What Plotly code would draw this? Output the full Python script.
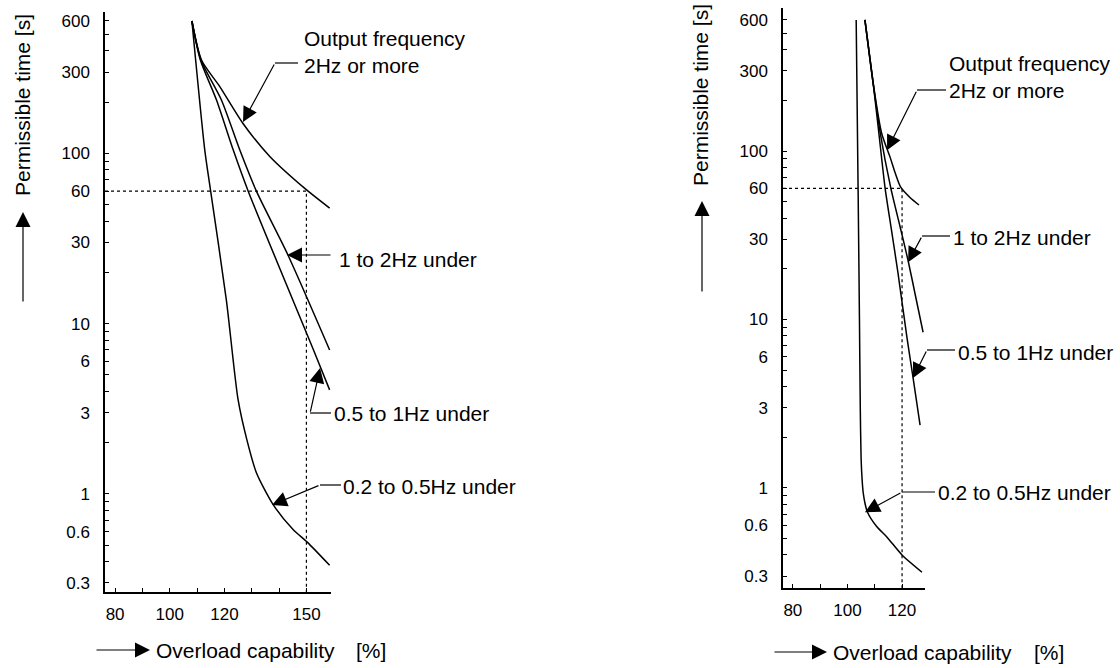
import math
import plotly.graph_objects as go

W, H = 1120, 668
FONT = "Liberation Sans, Arial, Helvetica, sans-serif"

# ---------------- data ----------------
# Left chart: overload capability [%] vs permissible time [s]
L_x_2hz = [108.1, 111.6, 118.3, 126.8, 136.6, 149.3, 158.5]
L_y_2hz = [600, 354, 247, 150, 96, 62.5, 47.7]
L_x_1to2 = [108.1, 111.4, 118.9, 125.6, 131.7, 143.2, 158.5]
L_y_1to2 = [600, 354, 206, 105, 60, 25.4, 7.0]
L_x_05to1 = [108.1, 111.2, 117.1, 123.2, 128.7, 152.6, 158.5]
L_y_05to1 = [600, 354, 206, 105, 60, 7.0, 4.08]
L_x_02to05 = [108.1, 112.8, 114.8, 120.7, 125.0, 128.2, 131.7, 137.9, 145.2, 150.3, 158.5]
L_y_02to05 = [600, 105, 62.5, 13.8, 3.57, 2.08, 1.33, 0.86, 0.615, 0.52, 0.38]

# Right chart
R_x_2hz = [106.4, 109.4, 112.5, 115.6, 117.5, 119.5, 122.9, 126.2]
R_y_2hz = [600, 254, 128, 92, 74, 61, 53, 47.8]
R_x_1to2 = [106.4, 109.4, 112.0, 115.9, 119.3, 122.2, 125.0, 127.7]
R_y_1to2 = [600, 254, 128, 60, 35.4, 22.4, 13.6, 8.4]
R_x_05to1 = [106.4, 109.4, 111.5, 113.8, 116.0, 118.5, 121.8, 124.0, 126.6]
R_y_05to1 = [600, 254, 128, 60, 35, 18.9, 7.8, 4.55, 2.36]
R_x_02to05 = [103.2, 103.9, 104.4, 104.7, 105.0, 105.4, 105.8, 106.5, 107.3, 110.7, 114.5, 120.0, 127.3]
R_y_02to05 = [600, 60, 10, 3.0, 1.5, 1.1, 0.93, 0.8, 0.72, 0.59, 0.51, 0.40, 0.316]

# reference (dotted) lines: 60 s at 150 % (left) and 120 % (right)
L_ref_x, L_ref_y = 150, 60
R_ref_x, R_ref_y = 120, 60

# axes
L_xrange = [76.3, 159.0]
R_xrange = [76.4, 128.4]
L_ylog = [-0.577, 2.831]
R_ylog = [-0.594, 2.849]
L_xtick_labels = [80, 100, 120, 150]
R_xtick_labels = [80, 100, 120]
L_xtick_minor = [90, 110, 130, 140]
R_xtick_minor = [90, 110]
y_tick_labels = [0.3, 0.6, 1, 3, 6, 10, 30, 60, 100, 300, 600]
y_tick_minor = [0.4, 0.5, 0.7, 0.8, 0.9, 2, 4, 5, 7, 8, 9, 20, 40, 50, 70, 80, 90, 200, 400, 500]

labels = ["Output frequency<br>2Hz or more", "1 to 2Hz under", "0.5 to 1Hz under", "0.2 to 0.5Hz under"]

# arrow tips (data coordinates) for the curve labels
L_tips = [(126.8, 153), (142.9, 25.3), (155.0, 5.48), (137.4, 0.859)]
R_tips = [(114.5, 101), (122.2, 21.9), (124.0, 4.49), (106.4, 0.717)]


def P(px, py):
    return px / W, 1 - py / H


fig = go.Figure()

line_style = dict(color="black", width=1.5, shape="spline", smoothing=0.7)
for xs, ys in [(L_x_2hz, L_y_2hz), (L_x_1to2, L_y_1to2), (L_x_05to1, L_y_05to1), (L_x_02to05, L_y_02to05)]:
    fig.add_trace(go.Scatter(x=xs, y=ys, mode="lines", line=line_style, xaxis="x", yaxis="y",
                             showlegend=False, hoverinfo="skip"))
for xs, ys in [(R_x_2hz, R_y_2hz), (R_x_1to2, R_y_1to2), (R_x_05to1, R_y_05to1), (R_x_02to05, R_y_02to05)]:
    fig.add_trace(go.Scatter(x=xs, y=ys, mode="lines", line=line_style, xaxis="x2", yaxis="y2",
                             showlegend=False, hoverinfo="skip"))

dot = dict(color="black", width=1.2, dash="dot")
fig.add_trace(go.Scatter(x=[L_xrange[0], L_ref_x, L_ref_x], y=[L_ref_y, L_ref_y, 10 ** L_ylog[0]],
                         mode="lines", line=dot, xaxis="x", yaxis="y", showlegend=False, hoverinfo="skip"))
fig.add_trace(go.Scatter(x=[R_xrange[0], R_ref_x, R_ref_x], y=[R_ref_y, R_ref_y, 10 ** R_ylog[0]],
                         mode="lines", line=dot, xaxis="x2", yaxis="y2", showlegend=False, hoverinfo="skip"))


def xaxis(domain, rng, labs, minor):
    return dict(domain=domain, range=rng, showline=True, linecolor="black", linewidth=1.5,
                ticks="inside", ticklen=4, tickwidth=1, tickcolor="black",
                tickmode="array", tickvals=labs, ticktext=[str(v) for v in labs],
                minor=dict(tickmode="array", tickvals=minor, ticks="inside", ticklen=4, tickcolor="black", showgrid=False),
                showgrid=False, zeroline=False, tickfont=dict(family=FONT, size=17, color="black"),
                ticklabelstandoff=6, fixedrange=True)


def yaxis(domain, rng):
    return dict(type="log", domain=domain, range=rng, showline=True, linecolor="black", linewidth=1.5,
                ticks="inside", ticklen=4, tickwidth=1, tickcolor="black",
                tickmode="array", tickvals=y_tick_labels, ticktext=[str(v) for v in y_tick_labels],
                minor=dict(tickmode="array", tickvals=y_tick_minor, ticks="inside", ticklen=4, tickcolor="black", showgrid=False),
                showgrid=False, zeroline=False, tickfont=dict(family=FONT, size=17, color="black"),
                ticklabelstandoff=10, fixedrange=True)


shapes = []
annotations = []
tf = dict(family=FONT, size=21, color="black")
AH = dict(arrowhead=2, arrowsize=2.5, arrowwidth=1.2, arrowcolor="black")


def text(px, py, s, angle=0, xanchor="left"):
    x, y = P(px, py)
    annotations.append(dict(x=x, y=y, xref="paper", yref="paper", text=s, showarrow=False,
                            xanchor=xanchor, yanchor="middle", align="left", font=tf, textangle=angle,
                            borderpad=0))


def seg(p1, p2):
    x0, y0 = P(*p1)
    x1, y1 = P(*p2)
    shapes.append(dict(type="line", xref="paper", yref="paper", x0=x0, y0=y0, x1=x1, y1=y1,
                       line=dict(color="black", width=1.2)))


def arrow_data(xref, yref, tip, dx, dy):
    # log axis: annotation y is given as log10(value)
    annotations.append(dict(x=tip[0], y=math.log10(tip[1]), xref=xref, yref=yref, text="", showarrow=True,
                            ax=dx, ay=dy, **AH))


def arrow_paper(tip, tail):
    x, y = P(*tip)
    annotations.append(dict(x=x, y=y, xref="paper", yref="paper", text="", showarrow=True,
                            ax=tail[0] - tip[0], ay=tail[1] - tip[1], **AH))


# ---- left chart labels ----
text(303, 52, labels[0])
seg((275, 63), (298, 63)); arrow_data("x", "y", L_tips[0], 32, -59)
text(338, 259, labels[1])
arrow_data("x", "y", L_tips[1], 45, 0)
text(333, 414, labels[2])
seg((310, 413), (331, 413)); arrow_data("x", "y", L_tips[2], -10, 45)
text(342, 486, labels[3])
seg((320, 485), (341, 485)); arrow_data("x", "y", L_tips[3], 48, -20)

# ---- right chart labels ----
text(948, 77, labels[0])
seg((917, 90), (946, 90)); arrow_data("x2", "y2", R_tips[0], 30, -60)
text(952, 237, labels[1])
seg((922, 236), (950, 236)); arrow_data("x2", "y2", R_tips[1], 14, -26)
text(957, 352, labels[2])
seg((927, 350), (955, 350)); arrow_data("x2", "y2", R_tips[2], 14, -28)
text(937, 492, labels[3])
seg((902, 492), (935, 492)); arrow_data("x2", "y2", R_tips[3], 37, -20)

# ---- axis titles ----
text(22, 105, "Permissible time [s]", angle=-90, xanchor="center")
arrow_paper((23, 212), (23, 303))
text(155, 650, "Overload capability")
text(355, 650, "[%]")
arrow_paper((150, 650), (95, 650))

text(700, 95, "Permissible time [s]", angle=-90, xanchor="center")
arrow_paper((702, 201), (702, 293))
text(832, 652, "Overload capability")
text(1033, 652, "[%]")
arrow_paper((827, 652), (773, 652))

fig.update_layout(
    width=W, height=H, autosize=False,
    margin=dict(l=0, r=0, t=0, b=0),
    paper_bgcolor="white", plot_bgcolor="white",
    showlegend=False,
    xaxis=dict(xaxis([105 / W, 331 / W], L_xrange, L_xtick_labels, L_xtick_minor), anchor="y"),
    yaxis=dict(yaxis([1 - 592 / H, 1 - 12 / H], L_ylog), anchor="x"),
    xaxis2=dict(xaxis([783 / W, 925 / W], R_xrange, R_xtick_labels, R_xtick_minor), anchor="y2"),
    yaxis2=dict(yaxis([1 - 588 / H, 1 - 8 / H], R_ylog), anchor="x2"),
    shapes=shapes,
    annotations=annotations,
)

fig.write_html("out.html", config=dict(displayModeBar=False),
               post_script="document.body.style.margin='0px';document.body.style.overflow='hidden';")
